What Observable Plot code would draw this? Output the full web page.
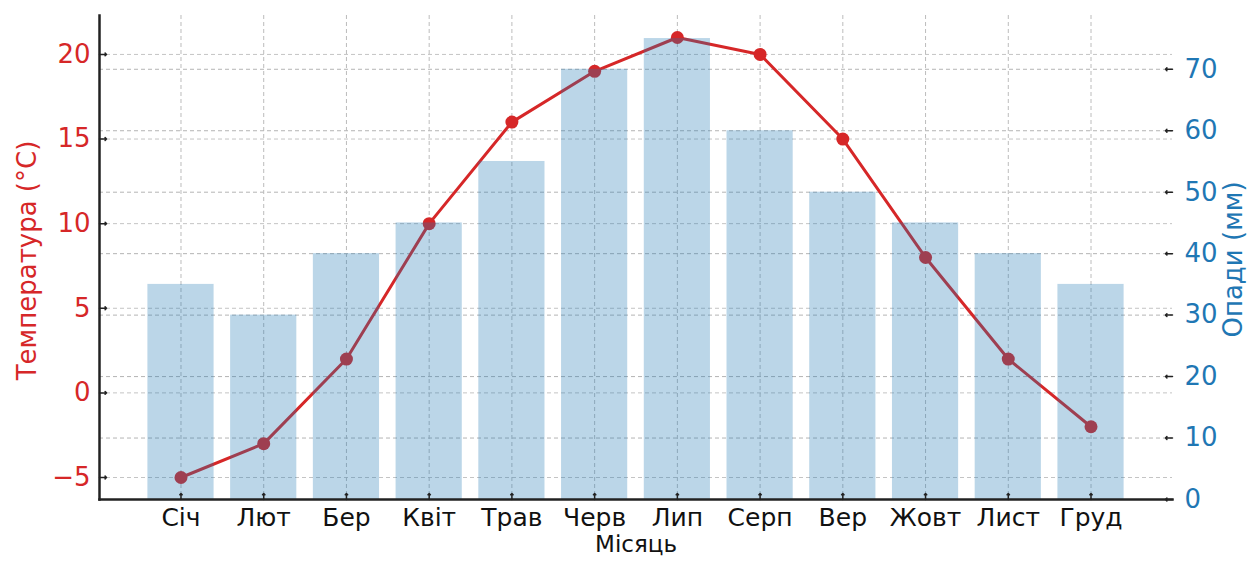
<!DOCTYPE html>
<html>
<head>
<meta charset="utf-8">
<script src="https://cdn.jsdelivr.net/npm/d3@7"></script>
<script src="https://cdn.jsdelivr.net/npm/@observablehq/plot@0.6"></script>
<style>
  html, body { margin: 0; padding: 0; background: white; }
</style>
</head>
<body>
<div id="chart"></div>
<script>
const months = ["Січ", "Лют", "Бер", "Квіт", "Трав", "Черв", "Лип", "Серп", "Вер", "Жовт", "Лист", "Груд"];
const temperature = [-5, -3, 2, 10, 16, 19, 21, 20, 15, 8, 2, -2];
const precipitation = [35, 30, 40, 45, 55, 70, 75, 60, 50, 45, 40, 35];
const tempTicks = [-5, 0, 5, 10, 15, 20];
const precipTicks = [0, 10, 20, 30, 40, 50, 60, 70];

const tDomain = [-6.3, 22.3];
const pDomain = [0, 78.75];
const p2t = d3.scaleLinear(pDomain, tDomain);

const data = months.map((m, i) => ({month: m, t: temperature[i], p: precipitation[i]}));

const red = "#d62728";
const blue = "#1f77b4";
const dark = "#222";

const chart = Plot.plot({
  width: 1249,
  height: 564,
  marginTop: 15,
  marginBottom: 65,
  marginLeft: 99,
  marginRight: 77,
  style: {fontFamily: "DejaVu Sans", fontSize: "26px", background: "white", overflow: "visible"},
  x: {type: "band", domain: months, paddingInner: 0.2, paddingOuter: 0.585, round: false, label: null},
  y: {domain: tDomain, label: null},
  marks: [
    // grids
    Plot.ruleY(tempTicks, {stroke: "#c4c4c4", strokeDasharray: "4,3", strokeWidth: 1}),
    Plot.ruleY(precipTicks.map(p2t), {stroke: "#b4b4b4", strokeDasharray: "4,3", strokeWidth: 1}),
    Plot.ruleX(months, {stroke: "#bcbcbc", strokeDasharray: "4,3", strokeWidth: 1}),
    // temperature line
    Plot.line(data, {x: "month", y: "t", stroke: red, strokeWidth: 3}),
    Plot.dot(data, {x: "month", y: "t", r: 6.5, fill: red, stroke: null}),
    // precipitation bars (semi-transparent, on top)
    Plot.barY(data, {x: "month", y1: () => p2t(0), y2: d => p2t(d.p), fill: blue, fillOpacity: 0.3}),
    // spines
    Plot.frame({anchor: "left", stroke: dark, strokeWidth: 2.5}),
    Plot.frame({anchor: "bottom", stroke: dark, strokeWidth: 2.5}),
    // inward ticks
    Plot.vector(tempTicks, {y: d => d, frameAnchor: "left", length: 7, rotate: 90, anchor: "start", stroke: dark, strokeWidth: 1.5}),
    Plot.vector(precipTicks.map(p2t), {y: d => d, frameAnchor: "right", length: 7, rotate: -90, anchor: "start", stroke: dark, strokeWidth: 1.5}),
    Plot.vector(months, {x: d => d, frameAnchor: "bottom", length: 6, rotate: 0, anchor: "start", stroke: dark, strokeWidth: 1.5}),
    // axes
    Plot.axisY(tempTicks, {anchor: "left", tickSize: 0, tickPadding: 9, color: red, label: null, fontSize: 26, tickFormat: d => d < 0 ? "\u2212" + Math.abs(d) : String(d)}),
    Plot.axisY(precipTicks.map(p2t), {anchor: "right", tickSize: 0, tickPadding: 12, color: blue, label: null, fontSize: 26, tickFormat: t => String(Math.round(p2t.invert(t)))}),
    Plot.axisX({anchor: "bottom", tickSize: 0, tickPadding: 9, color: "#111", label: null, fontSize: 25}),
    // axis titles
    Plot.text(["Температура (°C)"], {frameAnchor: "left", textAnchor: "middle", dx: -72, dy: 3, rotate: -90, fill: red, fontSize: 26}),
    Plot.text(["Опади (мм)"], {frameAnchor: "right", textAnchor: "middle", dx: 61, dy: 2, rotate: -90, fill: blue, fontSize: 26}),
    Plot.text(["Місяць"], {frameAnchor: "bottom", textAnchor: "middle", dy: 52, fill: "#111", fontSize: 23})
  ]
});
document.getElementById("chart").appendChild(chart);
</script>
</body>
</html>
